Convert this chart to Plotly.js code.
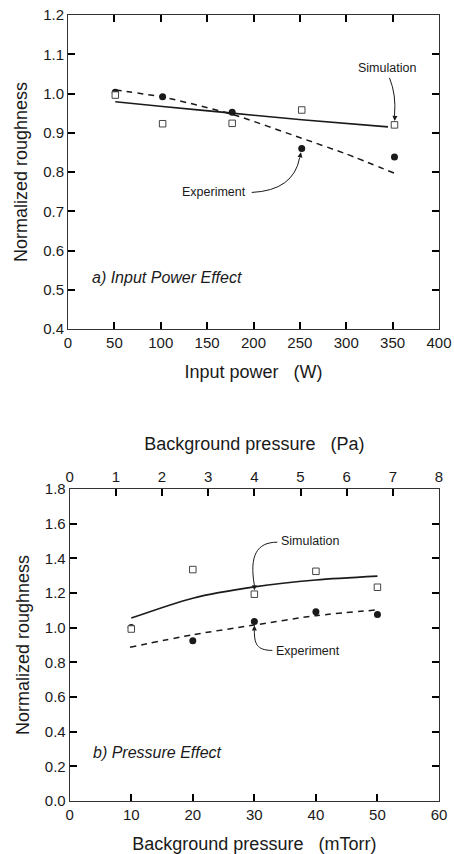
<!DOCTYPE html>
<html>
<head>
<meta charset="utf-8">
<script src="https://cdn.plot.ly/plotly-3.0.1.min.js"></script>
<style>
html,body{margin:0;padding:0;background:#fff;}
#chart{width:454px;height:854px;}
</style>
</head>
<body>
<div id="chart"></div>
<script>
// ---- Panel a) Input power effect ----
var powerW      = [51, 102, 177, 252, 352];
var expPower    = [1.003, 0.992, 0.952, 0.860, 0.838];
var simPower    = [0.996, 0.923, 0.924, 0.958, 0.920];
var simFitW     = [51, 102, 177, 252, 345];
var simFitPower = [0.979, 0.967, 0.950, 0.933, 0.915];
var expFitW     = [51, 102, 177, 252, 300, 355];
var expFitPower = [1.009, 0.991, 0.947, 0.886, 0.846, 0.794];
var powerTicks  = [0, 50, 100, 150, 200, 250, 300, 350, 400];

// ---- Panel b) Pressure effect ----
var pressureMTorr = [10, 20, 30, 40, 50];
var expPressure   = [1.001, 0.925, 1.036, 1.092, 1.076];
var simPressure   = [0.992, 1.335, 1.193, 1.325, 1.233];
var simFitP       = [10, 20, 30, 40, 50];
var simFitPress   = [1.055, 1.170, 1.235, 1.275, 1.297];
var expFitP       = [9.8, 20, 30, 40, 50.2];
var expFitPress   = [0.887, 0.959, 1.015, 1.069, 1.103];
var mTorrTicks    = [0, 10, 20, 30, 40, 50, 60];
var paTicks       = [0, 1, 2, 3, 4, 5, 6, 7, 8];
var PA_PER_MTORR  = 0.133322;

var ink = '#1a1a1a';
var FONT = 'Liberation Sans, Arial, Helvetica, sans-serif';

var circle = {symbol:'circle', size:7, color:ink};
var square = {symbol:'square', size:6.5, color:'#ffffff', line:{width:1, color:'#444'}};

var traces = [
  {x:simFitW, y:simFitPower, xaxis:'x', yaxis:'y', mode:'lines', line:{color:ink, width:1.6, shape:'spline', smoothing:0.6}, name:'Simulation fit'},
  {x:expFitW, y:expFitPower, xaxis:'x', yaxis:'y', mode:'lines', line:{color:ink, width:1.5, dash:'6px,5px', shape:'spline', smoothing:0.6}, name:'Experiment fit'},
  {x:powerW, y:expPower, xaxis:'x', yaxis:'y', mode:'markers', marker:circle, name:'Experiment'},
  {x:powerW, y:simPower, xaxis:'x', yaxis:'y', mode:'markers', marker:square, name:'Simulation'},

  {x:simFitP, y:simFitPress, xaxis:'x2', yaxis:'y2', mode:'lines', line:{color:ink, width:1.6, shape:'spline', smoothing:0.8}, name:'Simulation fit'},
  {x:expFitP, y:expFitPress, xaxis:'x2', yaxis:'y2', mode:'lines', line:{color:ink, width:1.5, dash:'6px,5px', shape:'spline', smoothing:0.8}, name:'Experiment fit'},
  {x:pressureMTorr, y:expPressure, xaxis:'x2', yaxis:'y2', mode:'markers', marker:circle, name:'Experiment'},
  {x:pressureMTorr, y:simPressure, xaxis:'x2', yaxis:'y2', mode:'markers', marker:square, name:'Simulation'},
  {x:pressureMTorr.map(function(v){return v*PA_PER_MTORR;}), y:simPressure, xaxis:'x3', yaxis:'y2', mode:'markers', marker:{opacity:0}, name:'Pa'}
];

function axisBase(extra){
  var a = {
    showgrid:false, zeroline:false, showline:true, linecolor:'#333', linewidth:1,
    ticks:'inside', ticklen:7, tickwidth:2, tickcolor:'#000',
    tickfont:{family:FONT, size:15, color:ink}
  };
  for (var k in extra) a[k] = extra[k];
  return a;
}
var titleFont = {family:FONT, size:18, color:ink};
var noteFont = {family:FONT, size:12.5, color:ink};

var layout = {
  width:454, height:854,
  margin:{l:68, r:15, t:15, b:53},
  showlegend:false,
  xaxis: axisBase({domain:[0,1], anchor:'y', range:[0,400], tickmode:'array', tickvals:powerTicks, mirror:'ticks',
         title:{text:'Input power\u00a0\u00a0\u00a0(W)', font:titleFont, standoff:15}}),
  yaxis: axisBase({domain:[0.6005,1], anchor:'x', range:[0.4,1.2], dtick:0.1, tick0:0.4, tickformat:'.1f', mirror:'ticks',
         title:{text:'Normalized roughness', font:titleFont, standoff:10}}),
  xaxis2: axisBase({domain:[0.0046,1], anchor:'y2', range:[0,60], tickmode:'array', tickvals:mTorrTicks, mirror:false,
         title:{text:'Background pressure\u00a0\u00a0\u00a0(mTorr)', font:titleFont, standoff:15}}),
  yaxis2: axisBase({domain:[0,0.397], anchor:'x2', range:[0,1.8], dtick:0.2, tick0:0, tickformat:'.1f', mirror:'ticks',
         title:{text:'Normalized roughness', font:titleFont, standoff:10}}),
  xaxis3: axisBase({overlaying:'x2', anchor:'y2', side:'top', range:[0,8], tickmode:'array', tickvals:paTicks,
         title:{text:'Background pressure\u00a0\u00a0\u00a0(Pa)', font:titleFont, standoff:12}}),
  annotations:[
    {xref:'x domain', yref:'y domain', x:0.058, y:0.165, xanchor:'left', yanchor:'middle', showarrow:false,
     text:'<i>a) Input Power Effect</i>', font:{family:FONT, size:16, color:ink}},
    {xref:'x2 domain', yref:'y2 domain', x:0.059, y:0.154, xanchor:'left', yanchor:'middle', showarrow:false,
     text:'<i>b) Pressure Effect</i>', font:{family:FONT, size:16, color:ink}},

    {xref:'x', yref:'y', x:powerW[4], y:simPower[4], xshift:-7, yshift:57, showarrow:false, text:'Simulation', font:noteFont},
    {xref:'x', yref:'y', x:powerW[3], y:expPower[3], xshift:-88, yshift:-44, showarrow:false, text:'Experiment', font:noteFont},
    {xref:'x2', yref:'y2', x:pressureMTorr[2], y:simPressure[2], xshift:56, yshift:53, showarrow:false, text:'Simulation', font:noteFont},
    {xref:'x2', yref:'y2', x:pressureMTorr[2], y:expPressure[2], xshift:54, yshift:-30, showarrow:false, text:'Experiment', font:noteFont},

    {xref:'x', yref:'y', x:powerW[4], y:simPower[4], ax:0.5, ay:-10, text:'', showarrow:true, arrowhead:2, arrowsize:1, arrowwidth:1, arrowcolor:ink, standoff:4},
    {xref:'x', yref:'y', x:powerW[3], y:expPower[3], ax:-2, ay:10, text:'', showarrow:true, arrowhead:2, arrowsize:1, arrowwidth:1, arrowcolor:ink, standoff:4},
    {xref:'x2', yref:'y2', x:pressureMTorr[2], y:simPressure[2], ax:0, ay:-10, text:'', showarrow:true, arrowhead:2, arrowsize:1, arrowwidth:1, arrowcolor:ink, standoff:4},
    {xref:'x2', yref:'y2', x:pressureMTorr[2], y:expPressure[2], ax:0, ay:10, text:'', showarrow:true, arrowhead:2, arrowsize:1, arrowwidth:1, arrowcolor:ink, standoff:4}
  ],
  shapes:[
    {type:'path', xref:'x', yref:'y', xsizemode:'pixel', ysizemode:'pixel', xanchor:powerW[4], yanchor:simPower[4],
     path:'M -5,47 Q 2,30 0,9', line:{color:ink, width:1}},
    {type:'path', xref:'x', yref:'y', xsizemode:'pixel', ysizemode:'pixel', xanchor:powerW[3], yanchor:expPower[3],
     path:'M -50,-44 Q -8,-42 -2,-9', line:{color:ink, width:1}},
    {type:'path', xref:'x2', yref:'y2', xsizemode:'pixel', ysizemode:'pixel', xanchor:pressureMTorr[2], yanchor:simPressure[2],
     path:'M 23,52 C 2,52 -5,38 0,9', line:{color:ink, width:1}},
    {type:'path', xref:'x2', yref:'y2', xsizemode:'pixel', ysizemode:'pixel', xanchor:pressureMTorr[2], yanchor:expPressure[2],
     path:'M 18,-29 C 2,-29 0,-22 0,-9', line:{color:ink, width:1}}
  ]
};

Plotly.newPlot('chart', traces, layout, {staticPlot:true, displayModeBar:false});
</script>
</body>
</html>
